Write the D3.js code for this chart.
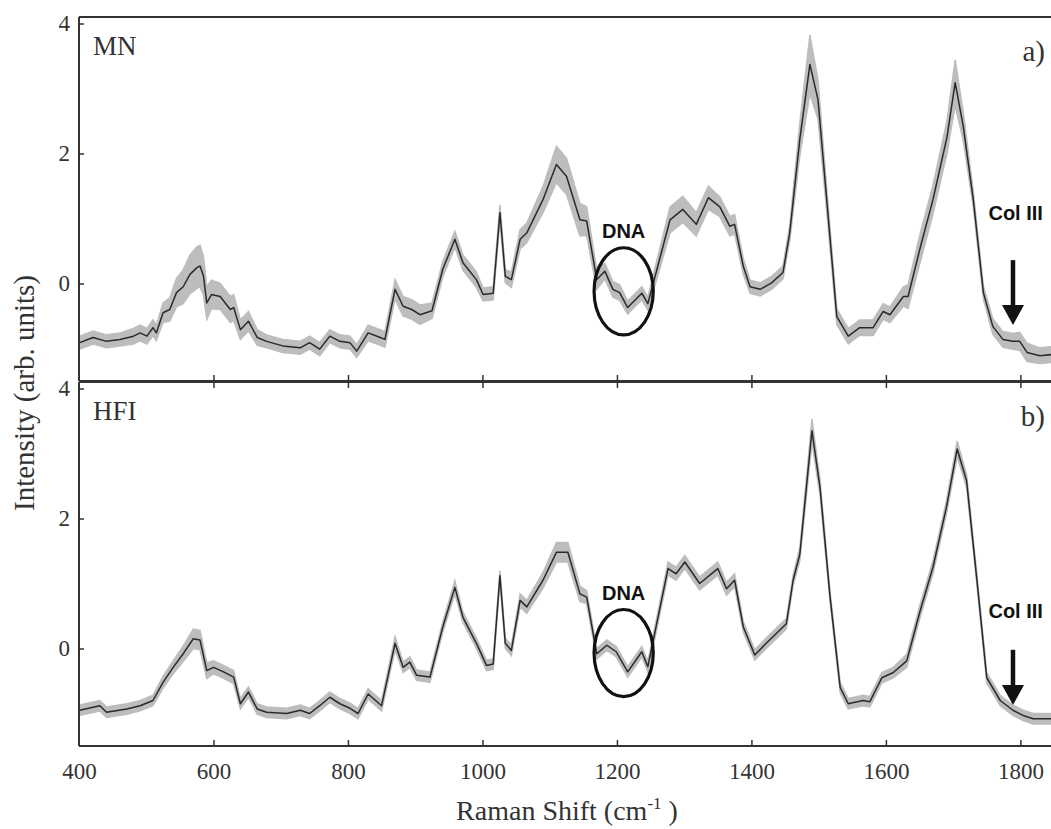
<!DOCTYPE html>
<html>
<head>
<meta charset="utf-8">
<script src="https://cdn.jsdelivr.net/npm/d3@7"></script>
<style>
  body { margin: 0; background: #fff; }
  svg { display: block; }
</style>
</head>
<body>
<svg id="chart" width="1051" height="829"></svg>
<script>
// MN spectrum (mean +/- sd)
var mnShift = [401,421,441,461,481,491,501,510,515,525,535,545,555,565,575,580,585,590,597,610,625,630,640,652,665,679,703,729,743,758,773,788,803,813,830,848,855,870,882,895,907,925,941,959,971,991,1001,1016,1026,1034,1043,1056,1066,1090,1110,1125,1145,1155,1170,1182,1194,1204,1216,1237,1246,1279,1298,1318,1336,1353,1368,1375,1388,1398,1413,1430,1447,1457,1472,1487,1499,1512,1527,1544,1561,1581,1596,1606,1626,1633,1651,1670,1691,1703,1715,1730,1745,1759,1774,1789,1799,1810,1829,1850];
var mnMean = [-0.91,-0.83,-0.89,-0.86,-0.81,-0.76,-0.81,-0.68,-0.76,-0.45,-0.40,-0.14,-0.05,0.14,0.24,0.27,0.12,-0.30,-0.17,-0.20,-0.40,-0.37,-0.71,-0.58,-0.83,-0.89,-0.96,-0.99,-0.91,-1.01,-0.81,-0.89,-0.91,-1.04,-0.76,-0.83,-0.86,-0.09,-0.35,-0.40,-0.48,-0.42,0.22,0.68,0.32,0.06,-0.17,-0.15,1.09,0.11,0.06,0.68,0.78,1.29,1.83,1.65,0.98,0.96,0.06,0.19,-0.09,-0.14,-0.37,-0.15,-0.31,0.98,1.14,0.91,1.32,1.18,0.88,0.91,0.26,-0.05,-0.09,0.01,0.17,0.78,2.22,3.37,2.83,1.29,-0.51,-0.81,-0.68,-0.68,-0.43,-0.48,-0.20,-0.20,0.55,1.29,2.26,3.09,2.42,1.29,-0.14,-0.66,-0.86,-0.89,-0.89,-1.06,-1.11,-1.09];
var mnSd = [0.10,0.10,0.10,0.10,0.12,0.12,0.12,0.12,0.12,0.15,0.18,0.22,0.26,0.30,0.32,0.32,0.30,0.25,0.22,0.20,0.20,0.20,0.15,0.15,0.12,0.10,0.10,0.10,0.10,0.10,0.10,0.10,0.10,0.10,0.12,0.12,0.12,0.15,0.15,0.15,0.15,0.12,0.12,0.12,0.12,0.12,0.10,0.10,0.12,0.10,0.12,0.15,0.15,0.20,0.28,0.28,0.25,0.22,0.15,0.12,0.12,0.12,0.10,0.10,0.10,0.20,0.20,0.18,0.18,0.15,0.15,0.15,0.12,0.10,0.10,0.10,0.10,0.12,0.25,0.45,0.30,0.18,0.12,0.12,0.12,0.12,0.12,0.12,0.15,0.18,0.22,0.22,0.25,0.35,0.22,0.12,0.10,0.12,0.12,0.12,0.14,0.14,0.12,0.12];

// HFI spectrum
var hfiShift = [401,431,441,471,491,510,525,540,555,570,580,590,600,615,630,640,652,665,679,709,729,743,758,773,788,803,815,830,850,870,882,892,902,922,941,959,971,991,1006,1016,1026,1034,1043,1056,1066,1090,1110,1127,1145,1155,1170,1185,1199,1216,1237,1246,1276,1288,1301,1323,1350,1363,1375,1388,1405,1422,1442,1452,1462,1472,1490,1502,1517,1532,1544,1566,1576,1594,1611,1631,1651,1670,1690,1706,1720,1735,1750,1770,1789,1804,1819,1850];
var hfiMean = [-0.95,-0.88,-0.98,-0.93,-0.88,-0.80,-0.52,-0.29,-0.08,0.15,0.13,-0.34,-0.29,-0.36,-0.44,-0.85,-0.67,-0.93,-0.98,-1.00,-0.95,-1.00,-0.88,-0.75,-0.85,-0.92,-1.00,-0.70,-0.88,0.08,-0.29,-0.21,-0.41,-0.44,0.33,0.94,0.48,0.08,-0.26,-0.24,1.12,0.08,-0.03,0.74,0.64,1.05,1.48,1.48,0.84,0.79,-0.08,0.05,-0.05,-0.36,-0.05,-0.28,1.23,1.15,1.33,1.00,1.23,0.92,1.05,0.33,-0.10,0.08,0.28,0.38,1.05,1.45,3.35,2.48,0.79,-0.60,-0.85,-0.80,-0.82,-0.45,-0.37,-0.19,0.58,1.25,2.17,3.07,2.58,1.09,-0.45,-0.80,-0.95,-1.03,-1.08,-1.08];
var hfiSd = [0.08,0.08,0.08,0.08,0.08,0.08,0.09,0.10,0.12,0.15,0.15,0.12,0.10,0.10,0.10,0.08,0.08,0.08,0.08,0.08,0.08,0.08,0.08,0.08,0.08,0.08,0.08,0.08,0.08,0.10,0.08,0.08,0.08,0.08,0.08,0.10,0.08,0.08,0.08,0.08,0.08,0.08,0.08,0.10,0.10,0.12,0.15,0.15,0.12,0.10,0.08,0.08,0.08,0.08,0.08,0.08,0.10,0.10,0.10,0.10,0.10,0.10,0.10,0.08,0.08,0.08,0.08,0.08,0.08,0.10,0.18,0.12,0.08,0.08,0.08,0.08,0.08,0.08,0.08,0.10,0.10,0.10,0.10,0.12,0.10,0.08,0.08,0.08,0.08,0.08,0.08,0.08];

var xTicks = [400, 600, 800, 1000, 1200, 1400, 1600, 1800];
var yTicks = [0, 2, 4];

var panels = [
  { shift: mnShift, mean: mnMean, sd: mnSd, name: "MN", tag: "a)", top: 17,
    dna: { x: 1210, y: -0.12, textY: 0.70 }, col: { x: 1793, textY: 0.98, from: 0.36, to: -0.64 } },
  { shift: hfiShift, mean: hfiMean, sd: hfiSd, name: "HFI", tag: "b)", top: 382,
    dna: { x: 1210, y: -0.07, textY: 0.75 }, col: { x: 1793, textY: 0.47, from: -0.02, to: -0.87 } }
];

var svg = d3.select("#chart");
var left = 79, right = 1054, ph = 364;
var serif = "'Liberation Serif', 'Times New Roman', serif";
var sans = "'Liberation Sans', Arial, sans-serif";

var x = d3.scaleLinear().domain([400, 1850]).range([left, right]);

svg.append("defs").append("clipPath").attr("id", "clip")
  .append("rect").attr("x", left).attr("y", 0).attr("width", right - left).attr("height", 829);

panels.forEach(function(p, pi) {
  var y = d3.scaleLinear().domain([-1.5, 4.1]).range([p.top + ph, p.top]);
  var g = svg.append("g");

  var rows = p.shift.map(function(s, i) { return { s: s, m: p.mean[i], sd: p.sd[i] }; });

  // gray band = mean +/- sd
  var area = d3.area()
    .x(function(d) { return x(d.s); })
    .y0(function(d) { return y(d.m - d.sd); })
    .y1(function(d) { return y(d.m + d.sd); });
  var line = d3.line()
    .x(function(d) { return x(d.s); })
    .y(function(d) { return y(d.m); });

  var plot = g.append("g").attr("clip-path", "url(#clip)");
  plot.append("path").datum(rows).attr("d", area)
    .attr("fill", "#bdbdbd").attr("stroke", "#bdbdbd").attr("stroke-width", 1.5);
  plot.append("path").datum(rows).attr("d", line)
    .attr("fill", "none").attr("stroke", "#2a2a2a").attr("stroke-width", 1.5)
    .attr("stroke-linejoin", "round");

  // frame
  g.append("line").attr("x1", left).attr("x2", right).attr("y1", p.top).attr("y2", p.top)
    .attr("stroke", "#333").attr("stroke-width", 2);
  g.append("line").attr("x1", left).attr("x2", right).attr("y1", p.top + ph).attr("y2", p.top + ph)
    .attr("stroke", "#333").attr("stroke-width", 2);
  g.append("line").attr("x1", left).attr("x2", left).attr("y1", p.top).attr("y2", p.top + ph)
    .attr("stroke", "#333").attr("stroke-width", 2);

  // y axis (ticks inward)
  var ya = d3.axisLeft(y).tickValues(yTicks).tickSizeInner(-5).tickSizeOuter(0).tickPadding(9)
    .tickFormat(d3.format("d"));
  var yg = g.append("g").attr("transform", "translate(" + left + ",0)").call(ya);
  yg.select(".domain").remove();
  yg.selectAll("line").attr("stroke", "#333").attr("stroke-width", 1.5);
  yg.attr("font-family", null);
  yg.selectAll("text").style("font-family", serif).style("font-size", "23px").attr("fill", "#333");

  // x ticks inward on bottom of each panel, and top of lower panel
  var xa = d3.axisBottom(x).tickValues(xTicks.slice(1)).tickSizeInner(-6).tickSizeOuter(0).tickFormat("");
  var xg = g.append("g").attr("transform", "translate(0," + (p.top + ph) + ")").call(xa);
  xg.select(".domain").remove();
  xg.selectAll("line").attr("stroke", "#333").attr("stroke-width", 1.5);
  if (pi == 1) {
    var xt = d3.axisTop(x).tickValues(xTicks.slice(1)).tickSizeInner(-6).tickSizeOuter(0).tickFormat("");
    var xtg = g.append("g").attr("transform", "translate(0," + p.top + ")").call(xt);
    xtg.select(".domain").remove();
    xtg.selectAll("line").attr("stroke", "#333").attr("stroke-width", 1.5);

    // tick labels under the lower panel
    var xl = d3.axisBottom(x).tickValues(xTicks).tickSize(0).tickPadding(17).tickFormat(d3.format("d"));
    var xlg = g.append("g").attr("transform", "translate(0," + (p.top + ph) + ")").call(xl);
    xlg.select(".domain").remove();
    xlg.attr("font-family", null);
    xlg.selectAll("text").style("font-family", serif).style("font-size", "23px").attr("fill", "#333");
  }

  // panel names
  g.append("text").attr("x", 93).attr("y", p.top + 38).text(p.name)
    .attr("font-family", serif).attr("font-size", 27).attr("fill", "#333");
  g.append("text").attr("x", 1045).attr("y", p.top + 44).attr("text-anchor", "end").text(p.tag)
    .attr("font-family", serif).attr("font-size", 29).attr("fill", "#333");

  // DNA annotation
  g.append("text").attr("x", x(p.dna.x)).attr("y", y(p.dna.textY)).attr("text-anchor", "middle")
    .text("DNA").attr("font-family", sans).attr("font-weight", "bold").attr("font-size", 20).attr("fill", "#111");
  g.append("ellipse").attr("cx", x(p.dna.x)).attr("cy", y(p.dna.y))
    .attr("rx", x(p.dna.x + 44) - x(p.dna.x)).attr("ry", y(0) - y(0.67))
    .attr("fill", "none").attr("stroke", "#111").attr("stroke-width", 3.2);

  // Col III arrow
  g.append("text").attr("x", x(p.col.x)).attr("y", y(p.col.textY)).attr("text-anchor", "middle")
    .text("Col III").attr("font-family", sans).attr("font-weight", "bold").attr("font-size", 20).attr("fill", "#111");
  var ax = x(1789), y0 = y(p.col.from), y1 = y(p.col.to);
  g.append("line").attr("x1", ax).attr("x2", ax).attr("y1", y0).attr("y2", y1 - 18)
    .attr("stroke", "#111").attr("stroke-width", 4.5);
  g.append("path")
    .attr("d", "M" + (ax - 11) + "," + (y1 - 20) + "L" + (ax + 11) + "," + (y1 - 20) + "L" + ax + "," + y1 + "Z")
    .attr("fill", "#111");
});

// axis titles
svg.append("text")
  .attr("transform", "translate(34,393) rotate(-90)")
  .attr("text-anchor", "middle")
  .attr("font-family", serif).attr("font-size", 29).attr("fill", "#333")
  .text("Intensity (arb. units)");

var xt = svg.append("text").attr("x", 567).attr("y", 820).attr("text-anchor", "middle")
  .attr("font-family", serif).attr("font-size", 28).attr("fill", "#333");
xt.append("tspan").text("Raman Shift (cm");
xt.append("tspan").attr("font-size", 17).attr("dy", -11).attr("dx", 0).text("-1");
xt.append("tspan").attr("dy", 11).text(" )");
</script>
</body>
</html>
